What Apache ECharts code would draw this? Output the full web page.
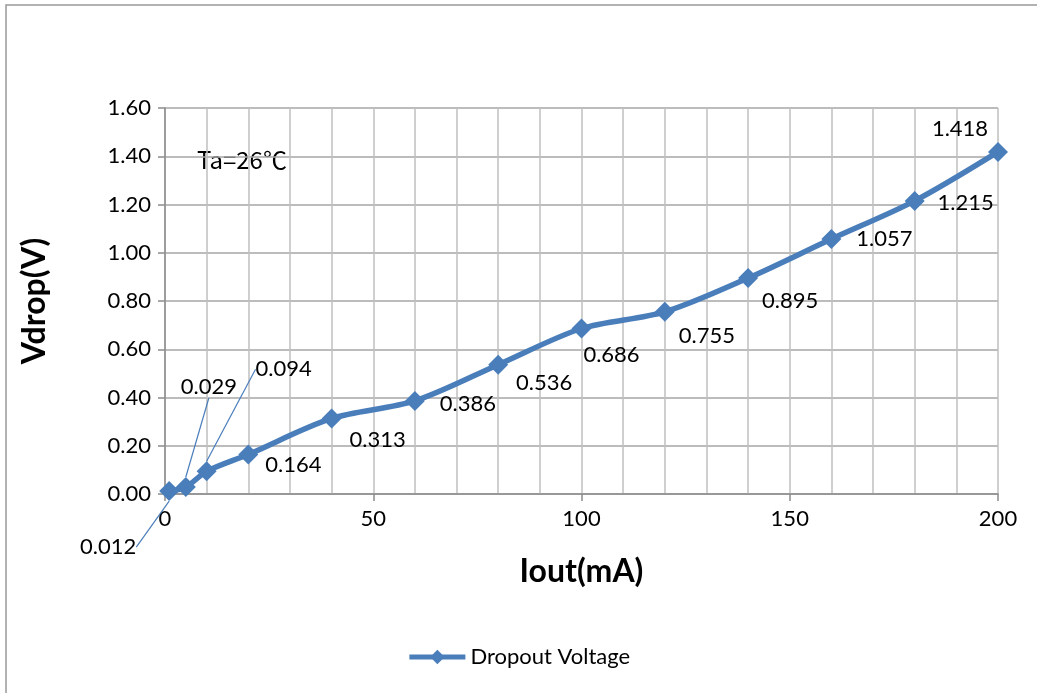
<!DOCTYPE html>
<html>
<head>
<meta charset="utf-8">
<script src="https://cdn.jsdelivr.net/npm/echarts@6/dist/echarts.min.js"></script>
<style>
html,body{margin:0;padding:0;background:#fff;}
#c{width:1037px;height:693px;}
</style>
</head>
<body>
<div id="c"></div>
<script>
const currentMA = [1, 5, 10, 20, 40, 60, 80, 100, 120, 140, 160, 180, 200];
const dropV = [0.012, 0.029, 0.094, 0.164, 0.313, 0.386, 0.536, 0.686, 0.755, 0.895, 1.057, 1.215, 1.418];
const labelShift = [[-61,56],[23,-100],[77,-102],[45,10],[46,21],[53,3],[46,18],[30,26],[42,24],[42,23],[53,0],[51,2],[-38,-23]];
const leaderIdx = [0, 1, 2];

const FONT = 'Lato, "Open Sans", sans-serif';
const blue = '#4A7EBB';
const chart = echarts.init(document.getElementById('c'));

const data = currentMA.map((x, i) => {
  const item = { value: [x, dropV[i]] };
  if (leaderIdx.indexOf(i) >= 0) {
    item.labelLine = { show: true, lineStyle: { color: blue, width: 1.2 } };
  }
  return item;
});

chart.setOption({
  animation: false,
  backgroundColor: '#fff',
  textStyle: { fontFamily: FONT },
  grid: { left: 165, right: 39, top: 108, bottom: 199, containLabel: false },
  graphic: [
    { type: 'rect', shape: { x: 6, y: 5, width: 1100, height: 800 }, style: { fill: 'none', stroke: '#999', lineWidth: 1.5 }, silent: true },
    { type: 'text', left: 197, top: 148, style: { text: 'Ta=26℃', font: '24px "Noto Sans CJK SC", "DejaVu Sans", sans-serif', fill: '#000' } }
  ],
  legend: {
    bottom: 20, left: 'center',
    itemWidth: 56, itemHeight: 18, itemGap: 4,
    lineStyle: { width: 5, color: blue },
    itemStyle: { color: blue },
    textStyle: { fontSize: 22, color: '#000', fontFamily: FONT },
    data: ['Dropout Voltage']
  },
  xAxis: [
    {
      type: 'value', min: 0, max: 200, interval: 10,
      axisLine: { show: false }, axisTick: { show: false }, axisLabel: { show: false },
      splitLine: { show: true, lineStyle: { color: '#BFBFBF', width: 1.5 } }
    },
    {
      type: 'value', min: 0, max: 200, interval: 50, position: 'bottom',
      name: 'Iout(mA)', nameLocation: 'middle', nameGap: 62,
      nameTextStyle: { fontSize: 32, fontWeight: 'bold', color: '#000', fontFamily: FONT },
      axisLine: { show: true, onZero: false, lineStyle: { color: '#8C8C8C', width: 1.5 } },
      axisTick: { show: true, inside: false, length: 7, lineStyle: { color: '#8C8C8C', width: 1.5 } },
      axisLabel: { fontSize: 22, color: '#000', margin: 14, fontFamily: FONT },
      splitLine: { show: false }
    }
  ],
  yAxis: {
    type: 'value', min: 0, max: 1.6, interval: 0.2,
    name: 'Vdrop(V)', nameLocation: 'middle', nameGap: 114, nameRotate: 90,
    nameTextStyle: { fontSize: 32, fontWeight: 'bold', color: '#000', fontFamily: FONT },
    axisLine: { show: true, lineStyle: { color: '#8C8C8C', width: 1.5 } },
    axisTick: { show: true, length: 7, lineStyle: { color: '#8C8C8C', width: 1.5 } },
    axisLabel: { fontSize: 22, color: '#000', margin: 14, fontFamily: FONT, formatter: v => v.toFixed(2) },
    splitLine: { show: true, lineStyle: { color: '#A6A6A6', width: 1.5 } }
  },
  series: [{
    name: 'Dropout Voltage',
    type: 'line',
    xAxisIndex: 0,
    data: data,
    smooth: 0.3,
    symbol: 'diamond',
    symbolSize: 20,
    lineStyle: { color: blue, width: 5.5 },
    itemStyle: { color: blue },
    label: {
      show: true, position: 'inside', color: '#000', fontSize: 22, fontFamily: FONT,
      formatter: p => p.value[1].toFixed(3)
    },
    labelLine: { show: false },
    labelLayout: function (p) {
      const s = labelShift[p.dataIndex];
      return { dx: s[0], dy: s[1] };
    }
  }]
});
</script>
</body>
</html>
